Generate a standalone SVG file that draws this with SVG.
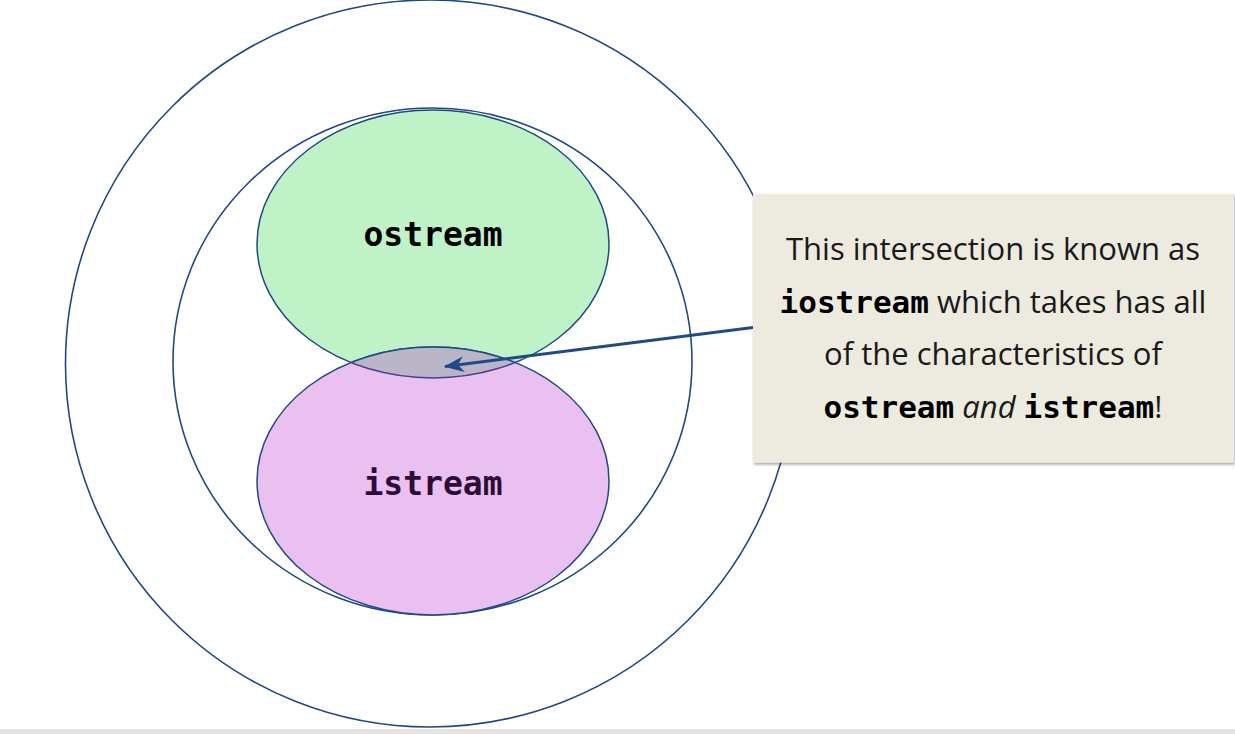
<svg xmlns="http://www.w3.org/2000/svg" width="1235" height="734" viewBox="0 0 1235 734">
<style>
.ring{fill:none;stroke:#1f4a85;stroke-width:1.6}
.mono{font-family:"DejaVu Sans Mono","Liberation Mono",monospace;font-weight:bold}
.body{font-family:"Open Sans","Noto Sans",sans-serif;font-size:31px;fill:#1a1a1a}
</style>
<defs>
<clipPath id="clipGreen"><ellipse cx="433" cy="244" rx="176" ry="134"/></clipPath>
<clipPath id="clipPink"><ellipse cx="433" cy="481" rx="176" ry="134"/></clipPath>
<marker id="arr" viewBox="0 0 20 16" refX="19" refY="8" markerWidth="20" markerHeight="16" markerUnits="userSpaceOnUse" orient="auto">
<path d="M20,8 L0,0 L6,8 L0,16 Z" fill="#1f4a85"/>
</marker>
<filter id="shadow" x="-5%" y="-5%" width="112%" height="115%">
<feDropShadow dx="1" dy="2" stdDeviation="1.5" flood-color="#000" flood-opacity="0.35"/>
</filter>
</defs>
<rect width="1235" height="734" fill="#ffffff"/>
<rect x="0" y="729" width="1235" height="5" fill="#e3e3e3"/>
<g id="outer-circle"><ellipse class="ring" cx="430" cy="363.5" rx="364.5" ry="363.5"/></g>
<g id="inner-circle"><ellipse class="ring" cx="432.5" cy="361.5" rx="259.5" ry="253.5"/></g>
<g id="ostream">
<ellipse cx="433" cy="244" rx="176" ry="134" fill="#c0f2c8" stroke="#1f4a85" stroke-width="1.5"/>
<text class="mono" x="433" y="246" font-size="33" text-anchor="middle" fill="#000">ostream</text>
</g>
<g id="istream">
<ellipse cx="433" cy="481" rx="176" ry="134" fill="#e9c0f0" stroke="#1f4a85" stroke-width="1.5"/>
<text class="mono" x="433" y="495" font-size="33" text-anchor="middle" fill="#2e0c38">istream</text>
</g>
<g id="iostream">
<ellipse cx="433" cy="481" rx="176" ry="134" fill="#bab6c8" clip-path="url(#clipGreen)"/>
<ellipse cx="433" cy="481" rx="176" ry="134" fill="none" stroke="#1f4a85" stroke-width="1.5" clip-path="url(#clipGreen)"/>
<ellipse cx="433" cy="244" rx="176" ry="134" fill="none" stroke="#4a3d8c" stroke-width="1.5" clip-path="url(#clipPink)"/>
</g>
<g id="connectors">
<line x1="753" y1="327.5" x2="445" y2="366.5" stroke="#1f4a85" stroke-width="3" marker-end="url(#arr)"/>
</g>
<g id="callout">
<rect x="753" y="194" width="481" height="268.5" fill="#edeae0" filter="url(#shadow)"/>
<text class="body" x="993" y="260" text-anchor="middle">This intersection is known as</text>
<text class="body" x="993" y="313" text-anchor="middle"><tspan class="mono" font-size="31" fill="#000">iostream</tspan> which takes has all</text>
<text class="body" x="993" y="365" text-anchor="middle">of the characteristics of</text>
<text class="body" x="993" y="418" text-anchor="middle"><tspan class="mono" font-size="31" fill="#000">ostream</tspan> <tspan font-style="italic">and</tspan> <tspan class="mono" font-size="31" fill="#000">istream</tspan>!</text>
</g>
</svg>
